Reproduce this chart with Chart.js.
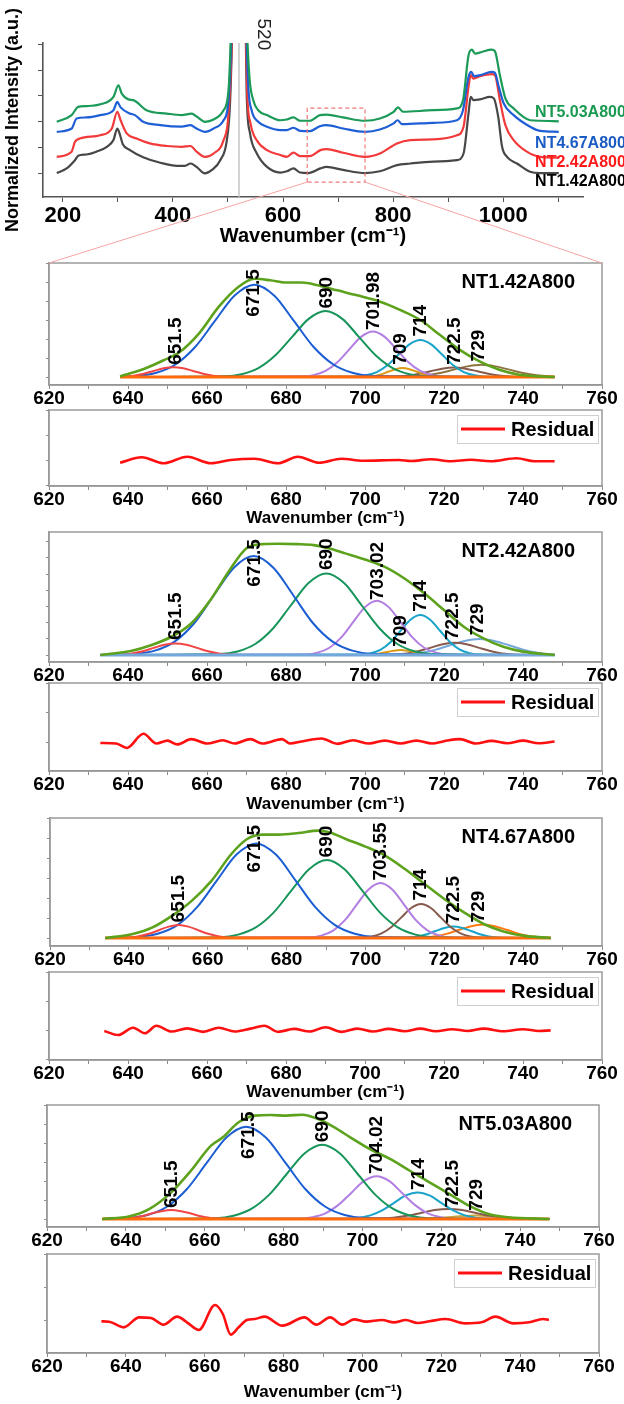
<!DOCTYPE html>
<html><head><meta charset="utf-8">
<script src="https://cdn.jsdelivr.net/npm/chart.js@4.4.1/dist/chart.umd.min.js"></script>
<style>
html,body{margin:0;padding:0;background:#fff;}
body{width:624px;height:1404px;position:relative;overflow:hidden;}
canvas{position:absolute;}
</style></head><body>
<canvas id="top"></canvas>
<canvas id="p1"></canvas><canvas id="r1"></canvas>
<canvas id="p2"></canvas><canvas id="r2"></canvas>
<canvas id="p3"></canvas><canvas id="r3"></canvas>
<canvas id="p4"></canvas><canvas id="r4"></canvas>
<canvas id="overlay"></canvas>
<script>
// ================= DATA =================
// Top panel: Raman spectra (wavenumber, normalized intensity, stacked)
const specNames = ['NT5.03A800','NT4.67A800','NT2.42A800','NT1.42A800'];
const specNT142 = [[189,0],[207,0.18],[222,0.5],[228,0.67],[243,0.72],[261,0.83],[280,1.02],[292,1.28],[299,1.73],[303,1.54],[309,1.12],[322,0.89],[346,0.61],[377,0.4],[407,0.28],[422,0.28],[432,0.37],[443,0.24],[458,-0.01],[471,0.12],[486,0.5],[498,1.28],[504,2.83],[508,6],[514,15],[520,30],[526,15],[532,6],[534,3.1],[540,1.55],[552,0.78],[571,0.24],[595,0.02],[607,0.07],[619,0.18],[631,0.02],[646,0],[668,0.18],[679,0.24],[709,0.12],[749,0],[776,0.07],[807,0.31],[831,0.37],[873,0.44],[916,0.5],[928,0.76],[937,2.31],[941,2.96],[946,2.83],[958,2.86],[976,2.96],[983,2.9],[991,2.18],[998,1.02],[1007,0.63],[1025,0.37],[1049,0.05],[1067,0],[1101,0]];
const specNT242 = [[189,0.63],[216,0.83],[222,1.21],[231,1.34],[268,1.47],[289,1.73],[299,2.38],[305,2.05],[316,1.54],[334,1.34],[358,1.15],[389,1.05],[416,1.02],[432,1.05],[443,0.83],[458,0.63],[474,0.76],[492,1.28],[501,2.31],[508,6],[514,15],[520,30],[526,15],[532,6],[535,3.1],[541,1.93],[552,1.28],[571,0.89],[595,0.7],[607,0.63],[619,0.79],[631,0.66],[649,0.66],[668,0.89],[679,0.93],[709,0.79],[749,0.63],[776,0.76],[807,1.15],[831,1.28],[873,1.31],[916,1.47],[928,1.8],[937,3.35],[941,3.8],[946,3.67],[958,3.76],[979,3.84],[985,3.8],[994,2.83],[1004,1.86],[1019,1.28],[1043,0.83],[1067,0.63],[1101,0.6]];
const specNT467 = [[189,1.6],[216,1.73],[225,2.12],[243,2.16],[268,2.25],[292,2.44],[299,2.76],[305,2.55],[322,2.31],[331,2.25],[346,1.99],[377,1.86],[416,1.8],[432,1.86],[443,1.73],[458,1.6],[474,1.73],[492,2.05],[501,2.83],[507,6],[514,15],[520,30],[526,15],[533,6],[537,3.35],[543,2.44],[555,1.99],[571,1.8],[595,1.67],[607,1.67],[619,1.76],[631,1.64],[649,1.63],[667,1.82],[679,1.86],[709,1.73],[749,1.6],[776,1.69],[801,1.93],[808,2.05],[816,1.9],[873,1.95],[916,2.05],[927,2.44],[937,3.73],[942,3.93],[947,3.76],[958,3.8],[979,3.93],[985,3.89],[992,3.35],[1001,2.7],[1019,2.25],[1049,1.8],[1067,1.64],[1101,1.6]];
const specNT503 = [[189,1.99],[216,2.25],[228,2.57],[243,2.6],[268,2.67],[292,2.96],[301,3.41],[307,3.09],[319,2.86],[328,2.83],[334,2.76],[352,2.44],[389,2.31],[416,2.25],[434,2.31],[444,2.18],[458,1.99],[474,2.08],[492,2.44],[501,3.22],[506,6],[514,15],[520,30],[526,15],[534,6],[539,3.73],[546,2.83],[555,2.44],[571,2.25],[595,2.05],[607,2.08],[619,2.16],[631,2.03],[649,2.03],[667,2.25],[679,2.27],[709,2.16],[749,2.03],[776,2.12],[801,2.38],[809,2.55],[818,2.38],[873,2.44],[916,2.51],[927,2.83],[937,4.57],[943,4.79],[949,4.64],[961,4.7],[979,4.79],[985,4.73],[994,3.8],[1004,2.9],[1019,2.51],[1049,2.05],[1067,2.03],[1101,2.01]];
const specLabelY = [2.36, 1.16, 0.39, -0.35];
const specLabelX = 1058;
const siPeak = 520;
const zoomX = [644, 749];
const zoomY = [-0.35, 2.52];
const topXTicks = [200, 400, 600, 800, 1000];

// Fit panels: peak names, label anchors
const sampleNames = ['NT1.42A800','NT2.42A800','NT4.67A800','NT5.03A800'];
const fitRanges = [[638,748],[633,748],[634,747],[634,747.4]];

// ---- NT1.42A800 components
const f1_6515 = [[638,0.01],[639,0.02],[641.5,0.07],[644,0.17],[646.5,0.32],[649,0.46],[651.5,0.52],[654,0.46],[656.5,0.32],[659,0.17],[661.5,0.07],[664,0.02],[666.5,0.01],[748,0]];
const f1_6715 = [[638,0],[642,0.05],[647,0.21],[652,0.66],[657,1.58],[662,2.95],[667,4.29],[672,4.86],[677,4.29],[682,2.95],[687,1.58],[692,0.66],[697,0.21],[702,0.05],[748,0]];
const f1_690 = [[638,0],[664.5,0.04],[668.75,0.15],[673,0.47],[677.25,1.13],[681.5,2.1],[685.75,3.06],[690,3.47],[694.25,3.06],[698.5,2.1],[702.75,1.13],[707,0.47],[711.25,0.15],[715.5,0.04],[748,0]];
const f1_70198 = [[638,0],[684,0.03],[687,0.1],[690,0.32],[693,0.78],[696,1.45],[699,2.11],[702,2.39],[705,2.11],[708,1.45],[711,0.78],[714,0.32],[717,0.1],[720,0.03],[748,0]];
const f1_709 = [[638,0],[699,0.01],[700.75,0.02],[702.5,0.06],[704.25,0.15],[706,0.29],[707.75,0.41],[709.5,0.47],[711.25,0.41],[713,0.29],[714.75,0.15],[716.5,0.06],[718.25,0.02],[720,0.01],[748,0]];
const f1_714 = [[638,0],[697.5,0.02],[700.25,0.09],[703,0.26],[705.75,0.63],[708.5,1.18],[711.25,1.72],[714,1.95],[716.75,1.72],[719.5,1.18],[722.25,0.63],[725,0.26],[727.75,0.09],[730.5,0.02],[748,0]];
const f1_7225 = [[638,0],[704.5,0.01],[707.5,0.02],[710.5,0.07],[713.5,0.16],[716.5,0.3],[719.5,0.44],[722.5,0.5],[725.5,0.44],[728.5,0.3],[731.5,0.16],[734.5,0.07],[737.5,0.02],[740.5,0.01],[748,0]];
const f1_729 = [[638,0],[708.5,0.01],[712,0.03],[715.5,0.09],[719,0.21],[722.5,0.39],[726,0.56],[729.5,0.64],[733,0.56],[736.5,0.39],[740,0.21],[743.5,0.09],[747,0.03],[748,0.02]];
const f1_env = [[638,0.03],[644,0.42],[649,0.88],[653,1.3],[658,2.3],[663,3.7],[668,4.75],[672,5.17],[676,5.09],[680,4.97],[684,4.97],[688,4.83],[693,4.56],[698,4.3],[704,3.95],[709,3.52],[714,3.0],[719,2.21],[724,1.43],[729,0.82],[734,0.38],[739,0.12],[748,0]];
const f1_lab = ['651.5','671.5','690','701.98','709','714','722.5','729'];
const f1_labX = [652,671.8,690.2,702.3,709.1,714.1,722.7,728.8];
const f1_labY = [0.64,3.17,3.6,2.47,0.64,2.13,0.64,0.82];

// ---- NT2.42A800 components
const f2_6515 = [[633,0],[635.5,0.01],[638.25,0.03],[641,0.1],[643.75,0.23],[646.5,0.44],[649.25,0.64],[652,0.72],[654.75,0.64],[657.5,0.44],[660.25,0.23],[663,0.1],[665.75,0.03],[668.5,0.01],[748,0]];
const f2_6715 = [[633,0],[641.8,0.07],[646.8,0.27],[651.8,0.83],[656.8,1.98],[661.8,3.71],[666.8,5.39],[671.8,6.11],[676.8,5.39],[681.8,3.71],[686.8,1.98],[691.8,0.83],[696.8,0.27],[701.8,0.07],[748,0]];
const f2_690 = [[633,0],[663.2,0.06],[667.7,0.22],[672.2,0.68],[676.7,1.64],[681.2,3.06],[685.7,4.45],[690.2,5.04],[694.7,4.45],[699.2,3.06],[703.7,1.64],[708.2,0.68],[712.7,0.22],[717.2,0.06],[748,0]];
const f2_70302 = [[633,0],[685,0.04],[688,0.15],[691,0.45],[694,1.09],[697,2.03],[700,2.96],[703,3.35],[706,2.96],[709,2.03],[712,1.09],[715,0.45],[718,0.15],[721,0.04],[748,0]];
const f2_709 = [[633,0],[698.5,0],[700.25,0.01],[702,0.04],[703.75,0.1],[705.5,0.19],[707.25,0.27],[709,0.31],[710.75,0.27],[712.5,0.19],[714.25,0.1],[716,0.04],[717.75,0.01],[719.5,0],[748,0]];
const f2_714 = [[633,0],[699,0.03],[701.5,0.11],[704,0.33],[706.5,0.8],[709,1.5],[711.5,2.18],[714,2.47],[716.5,2.18],[719,1.5],[721.5,0.8],[724,0.33],[726.5,0.11],[729,0.03],[748,0]];
const f2_7225 = [[633,0],[704.7,0.01],[707.7,0.03],[710.7,0.1],[713.7,0.25],[716.7,0.46],[719.7,0.67],[722.7,0.76],[725.7,0.67],[728.7,0.46],[731.7,0.25],[734.7,0.1],[737.7,0.03],[740.7,0.01],[748,0]];
const f2_729 = [[633,0],[706.5,0.01],[710.25,0.04],[714,0.13],[717.75,0.32],[721.5,0.6],[725.25,0.87],[729,0.99],[732.75,0.87],[736.5,0.6],[740.25,0.32],[744,0.13],[747.75,0.04],[748,0.04]];
const f2_env = [[633,0],[641,0.27],[646,0.62],[651,1.13],[656,1.95],[661,3.45],[666,5.35],[670,6.6],[674,6.85],[678,6.87],[683,6.85],[687,6.79],[691,6.58],[695,6.28],[700,5.9],[705,5.45],[710,4.73],[715,3.81],[720,2.78],[725,1.75],[730,1.03],[735,0.51],[740,0.21],[748,0]];
const f2_lab = ['651.5','671.5','690','703.02','709','714','722.5','729'];
const f2_labX = [652,672,690.2,703.3,709.1,714.1,722.2,728.6];
const f2_labY = [0.93,4.22,5.25,3.4,0.51,2.67,0.93,1.23];

// ---- NT4.67A800 components
const f3_6515 = [[634,0],[637.6,0.01],[640.1,0.03],[642.6,0.09],[645.1,0.21],[647.6,0.39],[650.1,0.57],[652.6,0.65],[655.1,0.57],[657.6,0.39],[660.1,0.21],[662.6,0.09],[665.1,0.03],[667.6,0.01],[747,0]];
const f3_6715 = [[634,0],[642.3,0.05],[647.3,0.21],[652.3,0.64],[657.3,1.54],[662.3,2.87],[667.3,4.17],[672.3,4.73],[677.3,4.17],[682.3,2.87],[687.3,1.54],[692.3,0.64],[697.3,0.21],[702.3,0.05],[747,0]];
const f3_690 = [[634,0],[663.2,0.04],[667.7,0.17],[672.2,0.53],[676.7,1.27],[681.2,2.37],[685.7,3.44],[690.2,3.9],[694.7,3.44],[699.2,2.37],[703.7,1.27],[708.2,0.53],[712.7,0.17],[717.2,0.04],[747,0]];
const f3_70355 = [[634,0],[685.8,0.03],[688.8,0.12],[691.8,0.37],[694.8,0.89],[697.8,1.67],[700.8,2.43],[703.8,2.75],[706.8,2.43],[709.8,1.67],[712.8,0.89],[715.8,0.37],[718.8,0.12],[721.8,0.03],[747,0]];
const f3_714 = [[634,0],[699.1,0.02],[701.6,0.07],[704.1,0.23],[706.6,0.55],[709.1,1.03],[711.6,1.5],[714.1,1.7],[716.6,1.5],[719.1,1.03],[721.6,0.55],[724.1,0.23],[726.6,0.07],[729.1,0.02],[747,0]];
const f3_7225 = [[634,0],[708.8,0.01],[711.05,0.03],[713.3,0.08],[715.55,0.19],[717.8,0.35],[720.05,0.5],[722.3,0.57],[724.55,0.5],[726.8,0.35],[729.05,0.19],[731.3,0.08],[733.55,0.03],[735.8,0.01],[747,0]];
const f3_729 = [[634,0],[711.8,0.01],[714.8,0.03],[717.8,0.09],[720.8,0.22],[723.8,0.41],[726.8,0.59],[729.8,0.67],[732.8,0.59],[735.8,0.41],[738.8,0.22],[741.8,0.09],[744.8,0.03],[747,0.01]];
const f3_env = [[634,0],[641,0.2],[646,0.53],[651,1.12],[656,1.87],[661,2.87],[666,4.2],[670,4.95],[674,5.17],[678,5.17],[683,5.25],[688,5.37],[691,5.28],[695,4.95],[700,4.57],[705,4.12],[710,3.45],[715,2.7],[720,1.95],[725,1.28],[730,0.7],[735,0.33],[740,0.12],[747,0]];
const f3_lab = ['651.5','671.5','690','703.55','714','722.5','729'];
const f3_labX = [652.6,672,690.2,703.8,714.1,722.4,728.8];
const f3_labY = [0.78,3.28,4.03,2.87,1.87,0.73,0.78];

// ---- NT5.03A800 components
const f4_6515 = [[634,0],[636.5,0.01],[639,0.02],[641.5,0.06],[644,0.15],[646.5,0.29],[649,0.41],[651.5,0.47],[654,0.41],[656.5,0.29],[659,0.15],[661.5,0.06],[664,0.02],[666.5,0.01],[747.4,0]];
const f4_6715 = [[634,0],[640.5,0.05],[645.5,0.21],[650.5,0.66],[655.5,1.58],[660.5,2.95],[665.5,4.29],[670.5,4.86],[675.5,4.29],[680.5,2.95],[685.5,1.58],[690.5,0.66],[695.5,0.21],[700.5,0.05],[747.4,0]];
const f4_690 = [[634,0],[662.8,0.04],[667.3,0.17],[671.8,0.53],[676.3,1.27],[680.8,2.37],[685.3,3.45],[689.8,3.91],[694.3,3.45],[698.8,2.37],[703.3,1.27],[707.8,0.53],[712.3,0.17],[716.8,0.04],[747.4,0]];
const f4_70402 = [[634,0],[684.1,0.02],[687.35,0.1],[690.6,0.3],[693.85,0.73],[697.1,1.36],[700.35,1.99],[703.6,2.25],[706.85,1.99],[710.1,1.36],[713.35,0.73],[716.6,0.3],[719.85,0.1],[723.1,0.02],[747.4,0]];
const f4_714 = [[634,0],[696,0.02],[699,0.06],[702,0.19],[705,0.45],[708,0.85],[711,1.24],[714,1.4],[717,1.24],[720,0.85],[723,0.45],[726,0.19],[729,0.06],[732,0.02],[747.4,0]];
const f4_7225 = [[634,0],[700.8,0.01],[704.3,0.02],[707.8,0.07],[711.3,0.17],[714.8,0.32],[718.3,0.47],[721.8,0.53],[725.3,0.47],[728.8,0.32],[732.3,0.17],[735.8,0.07],[739.3,0.02],[742.8,0.01],[747.4,0]];
const f4_729 = [[634,0],[710.7,0],[713.7,0.01],[716.7,0.02],[719.7,0.06],[722.7,0.11],[725.7,0.16],[728.7,0.18],[731.7,0.16],[734.7,0.11],[737.7,0.06],[740.7,0.02],[743.7,0.01],[746.7,0],[747.4,0]];
const f4_env = [[634,0],[641,0.14],[646,0.53],[651.5,1.4],[656.5,2.54],[661.6,3.86],[664.6,4.3],[668.6,5.09],[672.7,5.44],[676.7,5.47],[680.7,5.44],[684.8,5.49],[688.8,5.26],[692.9,4.82],[696.9,4.3],[701.9,3.68],[707,3.16],[712,2.54],[717,1.93],[722,1.32],[727,0.7],[732,0.26],[737,0.09],[747.4,0]];
const f4_lab = ['651.5','671.5','690','704.02','714','722.5','729'];
const f4_labX = [651.7,671.2,690,703.7,714.2,722.9,728.9];
const f4_labY = [0.58,3.16,4.04,2.37,1.53,0.61,0.44];

// Residuals
const res1 = [[638,-0.11],[643.5,0.11],[649,-0.13],[655,0.13],[661,-0.13],[666,0],[672,0.05],[678,-0.13],[683,0.13],[688.4,-0.11],[694,0.05],[699.5,-0.03],[708.6,0],[711.6,-0.04],[716.7,0.03],[721.7,-0.05],[726.8,0.01],[731.8,-0.05],[738.4,0.07],[742.9,-0.05],[748,-0.05]];
const res2 = [[633,-0.03],[637,-0.05],[639.7,-0.2],[643.9,0.28],[647.2,-0.05],[650,0.05],[652.5,-0.08],[656,0.1],[660,-0.05],[664,0.06],[667,-0.05],[671,0.1],[674,-0.05],[677.5,0.06],[679,0.1],[681,-0.05],[684,0.02],[689,0.12],[693,-0.06],[697,0.06],[701,-0.05],[705,0.05],[709,-0.05],[713,0.05],[717,-0.05],[720,0.03],[724,0.1],[728,-0.05],[732,0.04],[736,-0.04],[740,0.05],[744,-0.04],[748,0.02]];
const res3 = [[634,-0.03],[637.5,-0.17],[641.3,0.08],[644.3,-0.11],[647.2,0.15],[651,-0.05],[655,0.06],[659,-0.06],[663,0.08],[667,-0.05],[671,0.05],[674.5,0.15],[678,-0.06],[682,0.04],[686,-0.05],[690,0.1],[694,-0.06],[698,0.05],[702,-0.05],[706,0.04],[710,-0.04],[714,0.05],[718,-0.04],[722,0.03],[726,-0.03],[730,0.05],[735,-0.04],[740,0.03],[744,-0.03],[747,-0.01]];
const res4 = [[633.8,-0.02],[635.8,-0.03],[639.4,-0.2],[643.4,0.1],[646.4,0.08],[649.5,-0.12],[653,0.12],[655.5,-0.05],[658.5,-0.28],[662.6,0.47],[664.6,0.2],[666.6,-0.42],[668.6,-0.2],[670.7,0.02],[672.7,0.05],[675.2,0.12],[679.7,-0.15],[685.3,0.1],[688.3,-0.12],[691.8,0.1],[694.9,-0.12],[697.9,0.04],[700.9,-0.03],[705,0.02],[708,-0.05],[711,0.02],[714,-0.07],[717,-0.02],[721.1,0.05],[726.1,-0.08],[730.2,-0.05],[733.7,0.12],[738.3,-0.08],[742.3,-0.05],[745.8,0.05],[747.3,0.02]];

// ================= RENDER =================
const FF = "'Liberation Sans', Arial, Helvetica, sans-serif";
Chart.defaults.font.family = FF;
Chart.defaults.animation = false;
Chart.defaults.color = '#000';

function setCanvas(id, l, t, w, h) {
  const c = document.getElementById(id);
  c.width = w; c.height = h;
  c.style.left = l + 'px'; c.style.top = t + 'px';
  c.style.width = w + 'px'; c.style.height = h + 'px';
  return c;
}
function line(data, color, width, extra) {
  return Object.assign({data, borderColor: color, borderWidth: width, pointRadius: 0,
    fill: false, cubicInterpolationMode: 'monotone'}, extra || {});
}

// ---------- top chart ----------
const topColors = ['#1b9a58', '#1f5fd6', '#f23a3a', '#474747'];
const topLabelColors = ['#1a9a50', '#1a5cc4', '#ff1a1a', '#000000'];
const TOP_YMIN = -0.93, TOP_YMAX = 5.05;
const topCanvas = setCanvas('top', 0, 0, 624, 252);
const topLabelPlugin = {
  id: 'topLabels',
  afterDatasetsDraw(chart) {
    const {ctx, scales: {x, y}} = chart;
    ctx.save();
    ctx.font = 'bold 16px ' + FF;
    ctx.textAlign = 'left'; ctx.textBaseline = 'middle';
    specNames.forEach((n, i) => {
      ctx.fillStyle = topLabelColors[i];
      ctx.fillText(n, x.getPixelForValue(specLabelX), y.getPixelForValue(specLabelY[i]));
    });
    ctx.font = '19px ' + FF;
    ctx.fillStyle = '#222';
    ctx.translate(x.getPixelForValue(563.5), y.getPixelForValue(6.0));
    ctx.rotate(Math.PI / 2);
    ctx.fillText(String(siPeak), 0, 0);
    ctx.restore();
  }
};
const zoomRect = [[zoomX[0], zoomY[0]], [zoomX[0], zoomY[1]], [zoomX[1], zoomY[1]], [zoomX[1], zoomY[0]], [zoomX[0], zoomY[0]]];
const topChart = new Chart(topCanvas, {
  type: 'line',
  data: {datasets: [
    line(zoomRect, '#f07878', 1.2, {borderDash: [4, 3], cubicInterpolationMode: 'default', tension: 0}),
    line(specNT503, topColors[0], 2.2),
    line(specNT467, topColors[1], 2.2),
    line(specNT242, topColors[2], 2.2),
    line(specNT142, topColors[3], 2.2),
    line([[siPeak, TOP_YMIN], [siPeak, TOP_YMAX]], '#c4c4c4', 1.5, {cubicInterpolationMode: 'default', tension: 0}),
  ]},
  options: {
    responsive: false, devicePixelRatio: 1, events: [],
    layout: {autoPadding: false, padding: {left: 0, top: 43, right: 41, bottom: 0}},
    plugins: {legend: {display: false}, tooltip: {enabled: false}},
    scales: {
      x: {type: 'linear', min: 164, max: 1145,
        afterFit: s => { s.height = 55; },
        border: {color: '#555', width: 1.6},
        grid: {drawOnChartArea: false, tickLength: 5, color: '#555'},
        ticks: {stepSize: 100, autoSkip: false, maxRotation: 0, includeBounds: false, padding: 3,
          font: {size: 22, weight: 'bold', lineHeight: 1},
          callback: v => topXTicks.includes(v) ? String(v) : ''},
        title: {display: true, text: 'Wavenumber (cm\u207B\u00B9)', font: {size: 20, weight: 'bold', lineHeight: 1.2}, padding: {top: 0, bottom: 4}}
      },
      y: {type: 'linear', min: TOP_YMIN, max: TOP_YMAX,
        afterFit: s => { s.width = 43; },
        border: {color: '#555', width: 1.6},
        grid: {drawOnChartArea: false, tickLength: 5, color: '#555'},
        ticks: {stepSize: 1, includeBounds: false, display: false},
        title: {display: true, text: 'Normalized Intensity (a.u.)', font: {size: 18, weight: 'bold', lineHeight: 1.2}, padding: {top: 2, bottom: 0}}
      }
    }
  },
  plugins: [topLabelPlugin]
});

// ---------- fit + residual panels ----------
const framePlugin = {
  id: 'frame',
  afterDraw(chart) {
    const {ctx, chartArea: a} = chart;
    ctx.save(); ctx.strokeStyle = '#9a9a9a'; ctx.lineWidth = 1.5;
    ctx.strokeRect(a.left, a.top, a.right - a.left, a.bottom - a.top);
    ctx.restore();
  }
};
function peakLabelPlugin(texts, xs, ys, sample) {
  return {
    id: 'peakLabels',
    afterDatasetsDraw(chart) {
      const {ctx, scales: {x, y}, chartArea: a} = chart;
      ctx.save();
      ctx.fillStyle = '#000';
      ctx.font = 'bold 19px ' + FF;
      ctx.textAlign = 'left'; ctx.textBaseline = 'middle';
      texts.forEach((t, i) => {
        ctx.save();
        ctx.translate(x.getPixelForValue(xs[i]), y.getPixelForValue(ys[i]));
        ctx.rotate(-Math.PI / 2);
        ctx.fillText(t, 0, 0);
        ctx.restore();
      });
      ctx.font = 'bold 20px ' + FF;
      ctx.textAlign = 'right';
      ctx.fillText(sample, a.right - 27, a.top + 19);
      ctx.restore();
    }
  };
}
const residualLegend = {
  id: 'resLegend',
  afterDraw(chart) {
    const {ctx, chartArea: a} = chart;
    const ds = chart.data.datasets[0];
    const bl = a.right - 145, bt = a.top + 5, bw = 141, bh = 28;
    ctx.save();
    ctx.fillStyle = '#fff'; ctx.fillRect(bl, bt, bw, bh);
    ctx.strokeStyle = '#cfcfcf'; ctx.lineWidth = 1; ctx.strokeRect(bl + 0.5, bt + 0.5, bw, bh);
    const my = bt + bh / 2;
    ctx.strokeStyle = ds.borderColor; ctx.lineWidth = 3;
    ctx.beginPath(); ctx.moveTo(bl + 4, my); ctx.lineTo(bl + 48, my); ctx.stroke();
    ctx.fillStyle = '#000'; ctx.font = 'bold 20px ' + FF;
    ctx.textAlign = 'left'; ctx.textBaseline = 'middle';
    ctx.fillText(ds.label, bl + 54, my + 1);
    ctx.restore();
  }
};
function axisX(xHeight, titled, titlePad) {
  const o = {type: 'linear', min: 620, max: 760,
    afterFit: s => { s.height = xHeight; },
    border: {color: '#8a8a8a', width: 1.5},
    grid: {drawOnChartArea: false, tickLength: 4, color: '#8a8a8a'},
    ticks: {stepSize: 10, autoSkip: false, maxRotation: 0, includeBounds: false, padding: 0,
      font: {size: 19, weight: 'bold', lineHeight: 1},
      callback: v => (v % 20 === 0) ? String(v) : ''}
  };
  if (titled) o.title = {display: true, text: 'Wavenumber (cm\u207B\u00B9)', font: {size: 17, weight: 'bold', lineHeight: 1.2}, padding: {top: 0, bottom: titlePad}};
  return o;
}
function axisY(yWidth, ymin, ymax) {
  return {type: 'linear', min: ymin, max: ymax,
    afterFit: s => { s.width = yWidth; },
    border: {color: '#9a9a9a', width: 1.5},
    grid: {drawOnChartArea: false, tickLength: 3, color: '#8a8a8a'},
    ticks: {stepSize: 1, includeBounds: false, display: false}};
}
function fitPanel(id, g, comps, colors, env, range, baseColor, labs, sample) {
  const cv = setCanvas(id, g.cl, g.ct, g.cw, g.ch);
  const ds = [line(env, '#5da21c', 2.6), line([[range[0], 0], [range[1], 0]], baseColor, 3, {cubicInterpolationMode: 'default'})];
  comps.forEach((c, i) => ds.push(line(c, colors[i], 2)));
  return new Chart(cv, {
    type: 'line', data: {datasets: ds},
    options: {
      responsive: false, devicePixelRatio: 1, events: [],
      layout: {autoPadding: false, padding: {left: 0, top: g.pt - g.ct, right: g.cl + g.cw - g.pr, bottom: 0}},
      plugins: {legend: {display: false}, tooltip: {enabled: false}},
      scales: {x: axisX(g.ct + g.ch - g.pb, false, 0), y: axisY(g.pl - g.cl, g.ymin, g.ymax)}
    },
    plugins: [framePlugin, peakLabelPlugin(labs[0], labs[1], labs[2], sample)]
  });
}
function resPanel(id, g, data, titlePad) {
  const cv = setCanvas(id, g.cl, g.ct, g.cw, g.ch);
  return new Chart(cv, {
    type: 'line', data: {datasets: [line(data, '#ff1010', 2.6, {label: 'Residual'})]},
    options: {
      responsive: false, devicePixelRatio: 1, events: [],
      layout: {autoPadding: false, padding: {left: 0, top: g.pt - g.ct, right: g.cl + g.cw - g.pr, bottom: 0}},
      plugins: {legend: {display: false}, tooltip: {enabled: false}},
      scales: {x: axisX(g.ct + g.ch - g.pb, true, titlePad), y: axisY(g.pl - g.cl, g.ymin, g.ymax)}
    },
    plugins: [framePlugin, residualLegend]
  });
}

const C_RED = '#f04646', C_BLUE = '#1b5ed2', C_GRN = '#17955a', C_PUR = '#b27ee2',
      C_ORG = '#d99a14', C_CYAN = '#19a3c9', C_BRN = '#875a4e', C_OLV = '#8f7440',
      C_LBL = '#74a8dc', C_ORANGE = '#ff7a12', C_GOLD = '#c9a63a', C_BASE = '#ff6a0a';

const p1 = fitPanel('p1', {cl: 20, ct: 255, cw: 604, ch: 154, pl: 49, pt: 263, pr: 602, pb: 385, ymin: -0.42, ymax: 6},
  [f1_6515, f1_6715, f1_690, f1_70198, f1_709, f1_714, f1_7225, f1_729],
  [C_RED, C_BLUE, C_GRN, C_PUR, C_ORG, C_CYAN, C_BRN, C_OLV],
  f1_env, fitRanges[0], C_BASE, [f1_lab, f1_labX, f1_labY], sampleNames[0]);
resPanel('r1', {cl: 20, ct: 404, cw: 604, ch: 126, pl: 49, pt: 410, pr: 602, pb: 486, ymin: -1.04, ymax: 2}, res1, 1);

fitPanel('p2', {cl: 20, ct: 524, cw: 604, ch: 166, pl: 49, pt: 532, pr: 602, pb: 662, ymin: -0.43, ymax: 7.6},
  [f2_6515, f2_6715, f2_690, f2_70302, f2_709, f2_714, f2_7225, f2_729],
  [C_RED, C_BLUE, C_GRN, C_PUR, C_ORG, C_CYAN, C_BRN, C_LBL],
  f2_env, fitRanges[1], C_LBL, [f2_lab, f2_labX, f2_labY], sampleNames[1]);
resPanel('r2', {cl: 20, ct: 677, cw: 604, ch: 140, pl: 49, pt: 683, pr: 602, pb: 771, ymin: -0.98, ymax: 2}, res2, 2);

fitPanel('p3', {cl: 20, ct: 810, cw: 604, ch: 160, pl: 50, pt: 818, pr: 602, pb: 946, ymin: -0.4, ymax: 6},
  [f3_6515, f3_6715, f3_690, f3_70355, f3_714, f3_7225, f3_729],
  [C_RED, C_BLUE, C_GRN, C_PUR, C_BRN, C_CYAN, C_ORANGE],
  f3_env, fitRanges[2], C_BASE, [f3_lab, f3_labX, f3_labY], sampleNames[2]);
resPanel('r3', {cl: 20, ct: 966, cw: 604, ch: 140, pl: 49, pt: 972, pr: 602, pb: 1060, ymin: -1.03, ymax: 2}, res3, 3);

fitPanel('p4', {cl: 20, ct: 1097, cw: 604, ch: 155, pl: 47, pt: 1105, pr: 599, pb: 1227, ymin: -0.42, ymax: 6},
  [f4_6515, f4_6715, f4_690, f4_70402, f4_714, f4_7225, f4_729],
  [C_RED, C_BLUE, C_GRN, C_PUR, C_CYAN, C_BRN, C_GOLD],
  f4_env, fitRanges[3], C_BASE, [f4_lab, f4_labX, f4_labY], sampleNames[3]);
resPanel('r4', {cl: 20, ct: 1248, cw: 604, ch: 156, pl: 47, pt: 1254, pr: 599, pb: 1353, ymin: -0.97, ymax: 2}, res4, 1);

// ---------- connector lines (zoom box -> first fit panel) ----------
(function () {
  const ov = setCanvas('overlay', 0, 0, 624, 1404);
  ov.style.pointerEvents = 'none';
  const ctx = ov.getContext('2d');
  const tx = topChart.scales.x, ty = topChart.scales.y;
  const a = p1.chartArea, off = {x: 20, y: 255};
  ctx.strokeStyle = '#f5a3a3'; ctx.lineWidth = 1;
  ctx.beginPath();
  ctx.moveTo(tx.getPixelForValue(zoomX[0]), ty.getPixelForValue(zoomY[0]));
  ctx.lineTo(off.x + a.left, off.y + a.top);
  ctx.moveTo(tx.getPixelForValue(zoomX[1]), ty.getPixelForValue(zoomY[0]));
  ctx.lineTo(off.x + a.right, off.y + a.top);
  ctx.stroke();
})();
</script>
</body></html>
